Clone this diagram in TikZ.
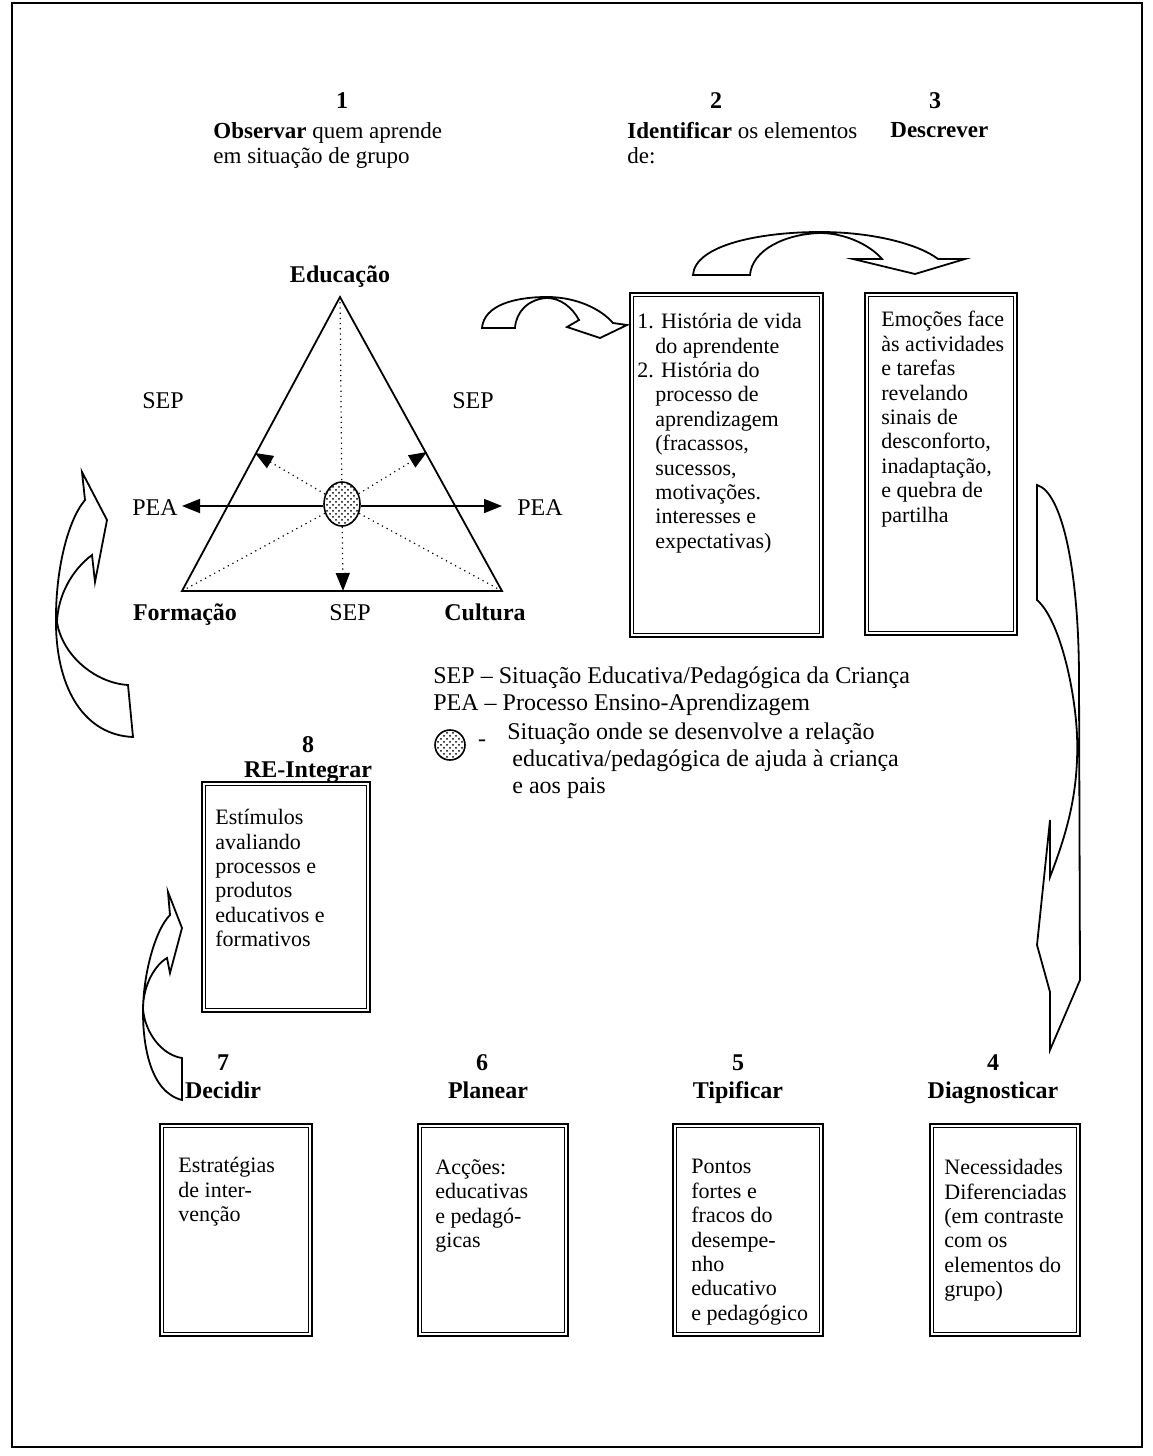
\documentclass[tikz,border=0pt]{standalone}
\usepackage{fontspec}
\setmainfont{Liberation Serif}
\usetikzlibrary{arrows.meta,patterns,shapes.geometric,fit}

\begin{document}
\begin{tikzpicture}[x=0.5pt,y=-0.5pt,
  lbl/.style={font=\fontsize{12}{14}\selectfont, inner sep=0pt, text height=1.6ex, text depth=0.3ex},
  blbl/.style={font=\fontsize{12}{14}\selectfont\bfseries, inner sep=0pt, text height=1.6ex, text depth=0.3ex},
  hdtxt/.style={font=\fontsize{11.5}{12.5}\selectfont, align=left, inner sep=0pt, anchor=north west},
  boxtxt/.style={font=\fontsize{11}{12.2}\selectfont, align=left, inner sep=0pt, anchor=north west},
  dboxline/.style={draw, line width=1.2pt, inner sep=0pt},
  triline/.style={line width=0.9pt},
  dotl/.style={dotted, line width=0.6pt},
  arr/.style={-{Triangle[length=9pt,width=7pt]}},
  ribbon/.style={draw, line width=0.9pt, fill=white, line join=miter},
  spot/.style={ellipse, draw, line width=0.8pt, inner sep=0pt, preaction={fill=white}, pattern=crosshatch dots},
]
\useasboundingbox (0,0) rectangle (1152,1456);
\draw[line width=0.6pt] (12,3) rectangle (1142,1447);

% ---------- headings of steps 1-3 ----------
\node[blbl] (n1) at (342,103) {1};
\node[hdtxt] (h1) at (213,122) {\textbf{Observar} quem aprende\\em situação de grupo};
\node[blbl] (n2) at (716,103) {2};
\node[hdtxt] (h2) at (627,122) {\textbf{Identificar} os elementos\\de:};
\node[blbl] (n3) at (935,103) {3};
\node[hdtxt] (h3) at (890,122) {\textbf{Descrever}};

% ---------- triangle ----------
\coordinate (E) at (340,297);
\coordinate (F) at (182,591);
\coordinate (Cu) at (502,591);
\draw[triline] (E) -- (F) -- (Cu) -- cycle;
\node[spot, minimum width=18pt, minimum height=22pt] (ctr) at (342,504) {};
\coordinate (pl) at (182,506);
\coordinate (pr) at (502,506);
\coordinate (ul) at (255,453);
\coordinate (ur) at (427,452);
\coordinate (dn) at (343,591);
\draw[dotl] (E) -- (ctr);
\draw[dotl] (ctr) -- (F);
\draw[dotl] (ctr) -- (Cu);
\draw[dotl, arr] (ctr) -- (ul);
\draw[dotl, arr] (ctr) -- (ur);
\draw[dotl, arr] (ctr) -- (dn);
\draw[triline, arr] (ctr.west |- pl) -- (pl);
\draw[triline, arr] (ctr.east |- pr) -- (pr);

\node[blbl] (edu) at (340,277) {Educação};
\node[blbl] (form) at (185,615) {Formação};
\node[blbl] (cult) at (485,615) {Cultura};
\node[lbl] (sepb) at (350,615) {SEP};
\node[lbl] (sepl) at (163,403) {SEP};
\node[lbl] (sepr) at (473,403) {SEP};
\node[lbl] (peal) at (155,510) {PEA};
\node[lbl] (pear) at (540,510) {PEA};

% ---------- boxes ----------
\node[dboxline, fit={(630,293) (823,637)}] (box2) {};
\node[dboxline, fit={(865,293) (1017,635)}] (box3) {};
\node[dboxline, fit={(202,782) (370,1012)}] (box8) {};
\node[dboxline, fit={(160,1124) (312,1336)}] (box7) {};
\node[dboxline, fit={(418,1124) (568,1336)}] (box6) {};
\node[dboxline, fit={(673,1124) (823,1336)}] (box5) {};
\node[dboxline, fit={(930,1124) (1080,1336)}] (box4) {};
\foreach \b in {box2,box3,box8,box7,box6,box5,box4}
  \draw[line width=0.6pt] ([shift={(2.3pt,-2.3pt)}]\b.north west) rectangle ([shift={(-2.3pt,2.3pt)}]\b.south east);

\node[boxtxt] (t2) at (637,313) {1. História de vida\\\hspace*{9pt}do aprendente\\2. História do\\\hspace*{9pt}processo de\\\hspace*{9pt}aprendizagem\\\hspace*{9pt}(fracassos,\\\hspace*{9pt}sucessos,\\\hspace*{9pt}motivações.\\\hspace*{9pt}interesses e\\\hspace*{9pt}expectativas)};
\node[boxtxt] (t3) at (881,311) {Emoções face\\às actividades\\e tarefas\\revelando\\sinais de\\desconforto,\\inadaptação,\\e quebra de\\partilha};
\node[boxtxt] (t8) at (215,809) {Estímulos\\avaliando\\processos e\\produtos\\educativos e\\formativos};
\node[boxtxt] (t7) at (178,1157) {Estratégias\\de inter-\\venção};
\node[boxtxt] (t6) at (435,1159) {Acções:\\educativas\\e pedagó-\\gicas};
\node[boxtxt] (t5) at (691,1159) {Pontos\\fortes e\\fracos do\\desempe-\\nho\\educativo\\e pedagógico};
\node[boxtxt] (t4) at (944,1159) {Necessidades\\Diferenciadas\\(em contraste\\com os\\elementos do\\grupo)};

% ---------- step titles 4-8 ----------
\node[blbl] (n8) at (308,747) {8};
\node[blbl] (s8) at (308,772) {RE-Integrar};
\node[blbl] (n7) at (223,1065) {7};
\node[blbl] (s7) at (223,1093) {Decidir};
\node[blbl] (n6) at (482,1065) {6};
\node[blbl] (s6) at (488,1093) {Planear};
\node[blbl] (n5) at (738,1065) {5};
\node[blbl] (s5) at (738,1093) {Tipificar};
\node[blbl] (n4) at (993,1065) {4};
\node[blbl] (s4) at (993,1093) {Diagnosticar};

% ---------- legend ----------
\node[lbl, anchor=west] (lg1) at (433,678) {SEP -- Situação Educativa/Pedagógica da Criança};
\node[lbl, anchor=west] (lg2) at (433,705) {PEA -- Processo Ensino-Aprendizagem};
\node[spot, minimum width=15pt, minimum height=15pt] (lgc) at (450,745) {};
\node[lbl] (lgd) at (482,741) {-};
\node[hdtxt, font=\fontsize{12}{13.7}\selectfont] (lg3) at (507,722) {Situação onde se desenvolve a relação\\\hspace*{2.5pt}educativa/pedagógica de ajuda à criança\\\hspace*{2.5pt}e aos pais};

% ---------- curved ribbon arrows ----------
% towards box 2
\draw[ribbon] (482,328) .. controls (484,305) and (515,297) .. (547,297)
  .. controls (575,297) and (600,308) .. (613,323) -- (627,325) -- (600,338) -- (567,327) -- (579,320)
  .. controls (572,307) and (560,298) .. (547,298)
  .. controls (528,299) and (516,312) .. (515,328) -- cycle;
% from box 2 to box 3
\draw[ribbon] (693,275) .. controls (695,245) and (760,232) .. (820,232)
  .. controls (875,232) and (920,245) .. (938,259) -- (965,259) -- (915,274) -- (853,259) -- (882,259)
  .. controls (870,245) and (845,233) .. (820,233)
  .. controls (785,234) and (752,250) .. (750,275) -- cycle;
% from box 3 down to step 4
\draw[ribbon] (1037,485) .. controls (1062,492) and (1079,570) .. (1079,680) -- (1080,980)
  -- (1050,1050) -- (1050,992) -- (1037,945) -- (1050,820) -- (1050,877)
  .. controls (1068,830) and (1079,790) .. (1077,735)
  .. controls (1075,690) and (1060,620) .. (1037,600) -- cycle;
% from step 8 back up to step 1
\draw[ribbon] (128,685) -- (133,737) .. controls (85,735) and (57,690) .. (56,625)
  .. controls (55,570) and (68,520) .. (85,500) -- (82,472) -- (107,520) -- (95,582) -- (92,555)
  .. controls (72,570) and (58,595) .. (57,622)
  .. controls (62,655) and (95,683) .. (128,685) -- cycle;
% from step 7 up to box 8
\draw[ribbon] (182,1058) -- (182,1100) .. controls (150,1092) and (143,1045) .. (143,1012)
  .. controls (143,975) and (155,930) .. (170,915) -- (168,892) -- (182,928) -- (170,973) -- (167,958)
  .. controls (155,965) and (143,985) .. (143,1009)
  .. controls (145,1033) and (162,1055) .. (182,1058) -- cycle;
\end{tikzpicture}
\end{document}
